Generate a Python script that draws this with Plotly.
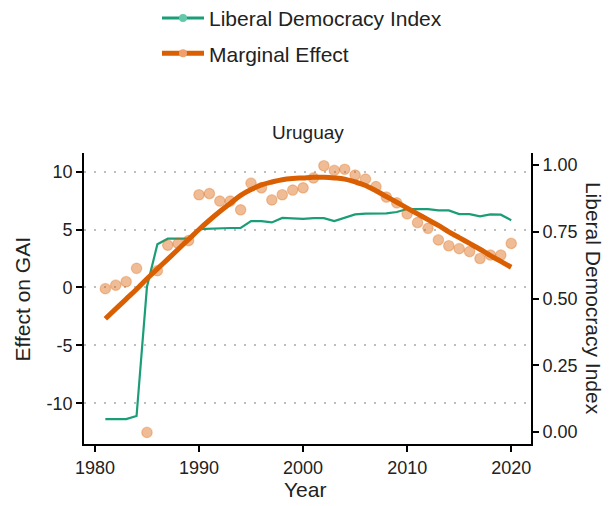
import plotly.graph_objects as go

years = list(range(1981, 2021))

ldi = [0.048, 0.048, 0.048, 0.060, 0.544, 0.703, 0.724, 0.724, 0.724, 0.760,
       0.762, 0.764, 0.764, 0.764, 0.790, 0.790, 0.785, 0.802, 0.801, 0.798,
       0.801, 0.801, 0.790, 0.803, 0.815, 0.818, 0.818, 0.819, 0.824, 0.835,
       0.835, 0.835, 0.830, 0.830, 0.816, 0.816, 0.808, 0.815, 0.814, 0.793]

effect_points = [-0.1, 0.2, 0.5, 1.65, -12.5, 1.45, 3.65, 3.8, 4.05, 8.0,
                 8.1, 7.45, 7.45, 6.7, 9.0, 8.6, 7.55, 8.0, 8.4, 8.6,
                 9.45, 10.5, 10.1, 10.2, 9.7, 9.35, 8.7, 7.8, 7.3, 6.35,
                 5.6, 5.1, 4.1, 3.6, 3.35, 3.1, 2.5, 2.8, 2.8, 3.8]

effect_fit = [-2.7, -1.85, -1.0, -0.15, 0.75, 1.6, 2.45, 3.3, 4.15, 5.0,
              5.8, 6.55, 7.25, 7.95, 8.45, 8.85, 9.1, 9.3, 9.4, 9.45,
              9.5, 9.5, 9.45, 9.35, 9.1, 8.8, 8.35, 7.85, 7.35, 6.85,
              6.35, 5.85, 5.35, 4.8, 4.3, 3.8, 3.3, 2.75, 2.25, 1.75]

left_ticks = [-10, -5, 0, 5, 10]
left_tick_text = ["-10", "-5", "0", "5", "10"]
right_ticks = [0, 0.25, 0.5, 0.75, 1.0]
x_ticks = [1980, 1990, 2000, 2010, 2020]

GREEN = "#1B9E77"
ORANGE = "#D95F02"
FONT = "Arial, Liberation Sans, sans-serif"

fig = go.Figure()

# Liberal democracy index (right axis, base axis 'y')
fig.add_trace(go.Scatter(x=years, y=ldi, mode="lines", yaxis="y",
                         line=dict(color=GREEN, width=2.2), showlegend=False))
# Marginal effect points and fitted curve (left axis 'y2', overlaying)
fig.add_trace(go.Scatter(x=years, y=effect_points, mode="markers", yaxis="y2",
                         marker=dict(size=10.5, color="rgba(217,95,2,0.42)",
                                     line=dict(color="rgba(217,95,2,0.30)", width=1.2)),
                         showlegend=False))
fig.add_trace(go.Scatter(x=years, y=effect_fit, mode="lines", yaxis="y2",
                         line=dict(color=ORANGE, width=5, shape="spline"),
                         showlegend=False))

# Legend entries
fig.add_trace(go.Scatter(x=[None], y=[None], mode="lines+markers", yaxis="y",
                         name="Liberal Democracy Index", legendgroup="a",
                         line=dict(color=GREEN, width=3),
                         marker=dict(color="rgba(100,200,170,1)", size=8)))
fig.add_trace(go.Scatter(x=[None], y=[None], mode="lines+markers", yaxis="y2",
                         name="Marginal Effect", legendgroup="b",
                         line=dict(color=ORANGE, width=5),
                         marker=dict(color="rgba(240,160,110,1)", size=8)))

axis_common = dict(showline=True, linecolor="black", linewidth=1.8,
                   ticks="outside", ticklen=6, tickwidth=1.5, tickcolor="black",
                   tickfont=dict(family=FONT, size=18, color="#222"),
                   zeroline=False, automargin=False)

fig.update_layout(
    template="none",
    width=612, height=506,
    margin=dict(l=76, r=89, t=145, b=70, autoexpand=False),
    paper_bgcolor="white", plot_bgcolor="white",
    font=dict(family=FONT, color="#222"),
    xaxis=dict(range=[1978.95, 2021.9], tickvals=x_ticks, showgrid=False,
               **axis_common),
    yaxis=dict(range=[-0.045, 1.045], tickvals=right_ticks, tickformat=".2f",
               side="right", showgrid=False, **axis_common),
    yaxis2=dict(range=[-13.5, 11.6], tickvals=left_ticks, ticktext=left_tick_text,
                side="left", overlaying="y", showgrid=True, gridcolor="#BEBEBE",
                gridwidth=2, griddash="2px,8px", **axis_common),
    showlegend=True,
    legend=dict(x=(149 - 76) / 447, y=1.533, xanchor="left", yanchor="top",
                font=dict(family=FONT, size=21, color="#222"),
                traceorder="grouped", tracegroupgap=5, itemwidth=42,
                bgcolor="rgba(0,0,0,0)"),
    annotations=[
        dict(text="Uruguay", x=0.5, y=1.072, xref="paper", yref="paper",
             showarrow=False, font=dict(family=FONT, size=19, color="#222"),
             xanchor="center", yanchor="middle"),
        dict(text="Effect on GAI", x=-0.1365, y=0.5, xref="paper", yref="paper",
             textangle=-90, showarrow=False,
             font=dict(family=FONT, size=21, color="#222"),
             xanchor="center", yanchor="middle"),
        dict(text="Liberal Democracy Index", x=1.14, y=0.5, xref="paper",
             yref="paper", textangle=90, showarrow=False,
             font=dict(family=FONT, size=21, color="#222"),
             xanchor="center", yanchor="middle"),
        dict(text="Year", x=0.495, y=-0.155, xref="paper", yref="paper",
             showarrow=False, font=dict(family=FONT, size=21, color="#222"),
             xanchor="center", yanchor="middle"),
    ],
)

fig.write_html("out.html")
